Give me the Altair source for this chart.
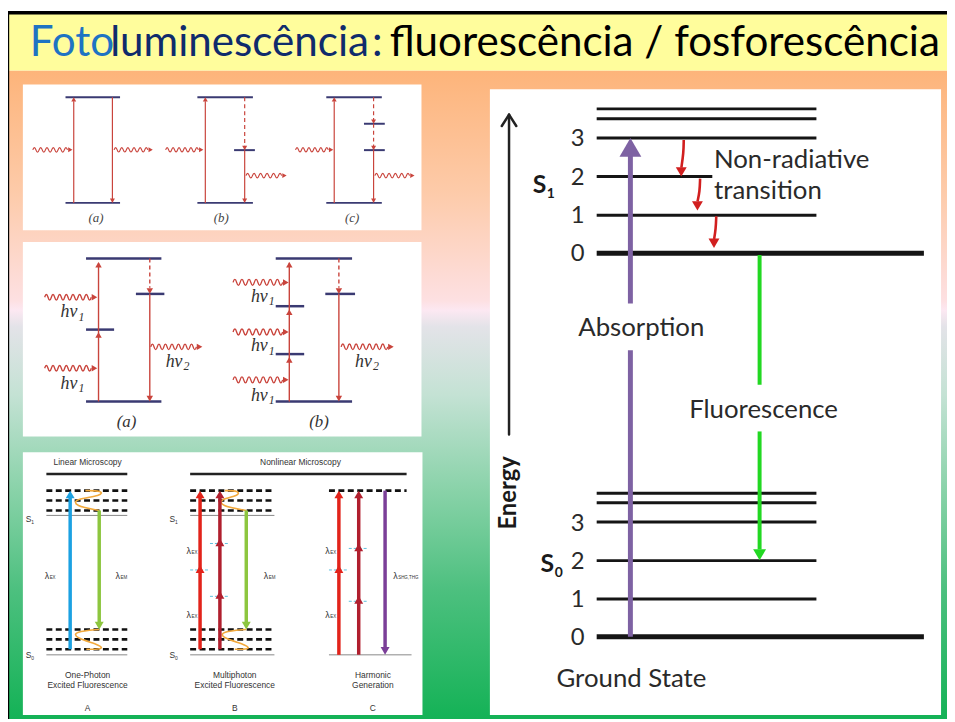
import altair as alt
import pandas as pd

# ===================== DATA (positions) =====================
# ---- title
TITLE_TEXT = ["Foto", "luminescência", ":", "fluorescência / fosforescência"]
TITLE_X = [30, 111, 375, 393]
TITLE_COL = ["#1E73C3", "#0F2B6C", "#0F2B6C", "#000000"]
TITLE_BASE = 53

# ---- background gradient (offset, colour)
BG_OFFSETS = [0.0, 0.19, 0.355, 0.37, 0.395, 0.5, 0.65, 0.8, 1.0]
BG_COLORS = ["#FDB47A", "#FDCBAA", "#FDE0E2", "#FCE8F2", "#E3E3E8",
             "#C4E2D4", "#88D2A8", "#4DC07F", "#14B256"]

# ---- white picture frames (left, top, right, bottom)
FRAMES = [(23, 82, 425, 229), (23, 241, 425, 437), (23, 453, 426, 718), (494, 87, 949, 718)]

NAVY = "#3A3A72"
RED = "#C9443C"

# ---- picture 1: (a) (b) (c)   levels (x1, x2, y)
B1_LEVELS = [(66, 121, 95), (66, 121, 201.5), (199, 255, 95), (199, 255, 201.5), (236, 257, 148.3),
             (329, 385, 95), (329, 385, 201.5), (367, 388, 121.7), (367, 388, 148.3)]
B1_SOLID = [(74.3, 201.5, 99), (113.3, 95, 198), (207, 201.5, 99), (246.7, 148.3, 198),
            (337, 201.5, 99), (376.7, 148.3, 198)]
B1_DASHED = [(246.7, 95, 145), (376.7, 95, 118), (376.7, 121.7, 145)]
B1_HEADS = [(74.3, 95, "u"), (113.3, 201.5, "d"), (207, 95, "u"), (246.7, 148.3, "d"),
            (246.7, 201.5, "d"), (337, 95, "u"), (376.7, 121.7, "d"), (376.7, 148.3, "d"),
            (376.7, 201.5, "d")]
B1_WAVES = [(33, 68, 148), (115, 149, 148), (167, 200, 148), (248, 284, 174),
            (298, 331, 148), (378, 413, 174)]
B1_LABELS = [("(a)", 96.7, 217), ("(b)", 223, 217), ("(c)", 355, 217)]

# ---- picture 2: two-photon / three-photon
B2_LEVELS = [(86.7, 162.7, 257.7), (86.7, 162.7, 401.7), (86.7, 115, 329.3), (137, 165.7, 293.3),
             (278, 355, 257.7), (278, 355, 401.7), (278, 306.7, 305.7), (278, 306.7, 354),
             (328, 358, 293.3)]
B2_SOLID = [(99.3, 401.7, 262), (151, 293.3, 397), (291.7, 401.7, 262), (341.7, 293.3, 397)]
B2_DASHED = [(151, 257.7, 287), (341.7, 257.7, 287)]
B2_HEADS = [(99.3, 332, "u"), (99.3, 261, "u"), (151, 293.3, "d"), (151, 401.7, "d"),
            (291.7, 261, "u"), (291.7, 309, "u"), (291.7, 357, "u"),
            (341.7, 293.3, "d"), (341.7, 401.7, "d")]
B2_WAVES = [(45, 92, 296.7), (45, 92, 368.3), (235, 285, 281.7), (235, 285, 331.7),
            (235, 285, 380), (152, 198, 346.7), (344, 391, 346.7)]
B2_HNU = [(61, 317, "1"), (61, 389, "1"), (253, 301, "1"), (253, 351, "1"), (253, 401, "1"),
          (167, 367, "2"), (358, 367, "2")]
B2_LABELS = [("(a)", 127.5, 423), ("(b)", 321.7, 423)]

# ---- picture 3: linear / nonlinear microscopy
BLUE3, GREEN3, RED3, DRED3, PURP3, ORANGE3, CYAN3 = (
    "#1BA1E2", "#8DC63F", "#E2231A", "#B01F2E", "#7B3F98", "#F2A93B", "#5BC0DE")
B3_HEADER = [(46.7, 128.3, 475), (191.7, 410, 475)]
B3_THIN = [(46.7, 128.3, 516.7), (46.7, 128.3, 657.3), (191.7, 276.7, 516.7),
           (191.7, 276.7, 657.3), (331.7, 415, 657.3)]
B3_DASHED = [(46.7, 128.3, 491.7), (46.7, 128.3, 501.7), (46.7, 128.3, 511.7),
             (46.7, 128.3, 631.7), (46.7, 128.3, 641.7), (46.7, 128.3, 651.7),
             (191.7, 276.7, 491.7), (191.7, 276.7, 501.7), (191.7, 276.7, 511.7),
             (191.7, 276.7, 631.7), (191.7, 276.7, 641.7), (191.7, 276.7, 651.7),
             (331.7, 410, 491.7)]
B3_CYAN = [(191.7, 211.7, 571.7), (211.7, 231.7, 545), (211.7, 231.7, 598.3),
           (331.7, 351.7, 571.7), (351.7, 371.7, 550), (351.7, 371.7, 603.3)]
B3_SHAFTS = [(70.7, 651.7, 497, BLUE3), (100, 511.7, 626, GREEN3),
             (201.7, 651.7, 497, RED3), (221.7, 651.7, 497, DRED3), (248.3, 511.7, 626, GREEN3),
             (341.7, 657.3, 497, RED3), (361.7, 657.3, 497, DRED3), (388.3, 491.7, 650, PURP3)]
B3_HEADS = [(70.7, 491.7, "u", BLUE3), (100, 631.7, "d", GREEN3),
            (201.7, 567, "u", RED3), (201.7, 491.7, "u", RED3),
            (221.7, 593, "u", DRED3), (221.7, 540, "u", DRED3), (221.7, 491.7, "u", DRED3),
            (248.3, 631.7, "d", GREEN3),
            (341.7, 567, "u", RED3), (341.7, 491.7, "u", RED3),
            (361.7, 598, "u", DRED3), (361.7, 545, "u", DRED3), (361.7, 491.7, "u", DRED3),
            (388.3, 657.3, "d", PURP3)]
B3_ORANGE = {
    "a_top": [(86, 491.7), (103, 491.7), (103, 497), (75, 500), (75, 507), (100, 511.7)],
    "a_bot": [(100, 631.7), (75, 634), (75, 640), (103, 648), (103, 651.7), (87, 651.7)],
    "b_top": [(226.7, 491.7), (241, 491.7), (241, 497), (222, 500), (222, 507), (248.3, 511.7)],
    "b_bot": [(248.3, 631.7), (223, 634), (223, 640), (251, 648), (251, 651.7), (236.7, 651.7)],
}
B3_CENTER_TEXT = [("Linear Microscopy", 88.3, 463), ("Nonlinear Microscopy", 303, 463),
                  ("One-Photon", 88.3, 678), ("Excited Fluorescence", 88.3, 688), ("A", 88.3, 711),
                  ("Multiphoton", 236.7, 678), ("Excited Fluorescence", 236.7, 688), ("B", 236.7, 711),
                  ("Harmonic", 376, 678), ("Generation", 376, 688), ("C", 376, 711)]
B3_SYMBOLS = [("S", 26, 520, 8.5), ("1", 31.5, 523, 5), ("S", 26, 658, 8.5), ("0", 31.5, 661, 5),
              ("S", 171, 520, 8.5), ("1", 176.5, 523, 5), ("S", 171, 658, 8.5), ("0", 176.5, 661, 5),
              ("λ", 45, 578, 9), ("EX", 50, 580, 4.5), ("λ", 116.5, 578, 9), ("EM", 121.5, 580, 4.5),
              ("λ", 188, 553, 9), ("EX", 193, 555, 4.5), ("λ", 188, 617, 9), ("EX", 193, 619, 4.5),
              ("λ", 266, 578, 9), ("EM", 271, 580, 4.5),
              ("λ", 328, 553, 9), ("EX", 333, 555, 4.5), ("λ", 328, 617, 9), ("EX", 333, 619, 4.5),
              ("λ", 396.5, 578, 9), ("SHG,THG", 401.5, 580, 4.5)]

# ---- Jablonski diagram (right)
S1_LEVELS = [(601.7, 823.3, 106.7, 3), (601.7, 823.3, 116.7, 3), (601.7, 823.3, 136, 3),
             (601.7, 718.3, 175, 3), (601.7, 823.3, 214, 3), (601.7, 931.7, 252.3, 5)]
S0_LEVELS = [(601.7, 823.3, 494.3, 3), (601.7, 823.3, 504, 3), (601.7, 823.3, 523.3, 3),
             (601.7, 823.3, 562.3, 3), (601.7, 823.3, 601, 3), (601.7, 931.7, 639, 5)]
LEVEL_NUMS = [("3", 136.7), ("2", 176.7), ("1", 215), ("0", 253.3),
              ("3", 525), ("2", 563.3), ("1", 601.7), ("0", 640)]
LEVEL_NUM_X = 582.5
ENERGY_AXIS = [(513.3, 113, 513.3, 435), (506, 124, 513.3, 112.5), (520.6, 124, 513.3, 112.5)]
PURPLE, GREEN, NR_RED = "#7E62A3", "#22D822", "#D11F1F"
ABS_SHAFT = [(635.7, 639, 635.7, 350), (635.7, 303, 635.7, 150)]
FLU_SHAFT = [(766, 254, 766, 385), (766, 432, 766, 551)]
NR_CURVES = {
    "r1": [(689.5, 138), (689.3, 151), (687.1, 166)],
    "r2": [(706, 177), (705.6, 190), (703.4, 200)],
    "r3": [(722.3, 215), (721.8, 228), (720.1, 238)],
}
JAB_HEADS = [(635.7, 136, "u", 22, PURPLE), (766, 562, "d", 13, GREEN),
             (687, 175, "d", 11, NR_RED), (703.3, 209.3, "d", 11, NR_RED), (720, 247, "d", 11, NR_RED)]
JAB_TEXT_C = [("Absorption", 646.7, 328), ("Fluorescence", 770, 410), ("Ground State", 636.7, 682)]
JAB_TEXT_L = [("Non-radiative", 720, 158), ("transition", 720, 190)]
JAB_BOLD = [("S", 544, 184, 25), ("1", 555.5, 193, 14), ("S", 552, 566, 25), ("0", 563.5, 575, 14)]

# ===================== HELPERS =====================
XS = alt.Scale(domain=[8, 955], nice=False, zero=False)
YS = alt.Scale(domain=[8, 722], nice=False, zero=False, reverse=True)


def xe(f="x"):
    return alt.X(f, type="quantitative", scale=XS, axis=None)


def ye(f="y"):
    return alt.Y(f, type="quantitative", scale=YS, axis=None)


def segs(rows, dash=None, cap="butt"):
    """rows: (x1, y1, x2, y2, colour, width)"""
    df = pd.DataFrame(rows, columns=["x", "y", "x2", "y2", "c", "w"])
    kw = dict(strokeCap=cap)
    if dash:
        kw["strokeDash"] = dash
    return alt.Chart(df).mark_rule(**kw).encode(
        x=xe("x"), y=ye("y"), x2=alt.X2("x2"), y2=alt.Y2("y2"),
        color=alt.Color("c:N", scale=None), strokeWidth=alt.StrokeWidth("w:Q", scale=None))


ANG = {"u": 0, "r": 90, "d": 180, "l": 270}


def heads(rows):
    """rows: (tip_x, tip_y, direction, width, colour)"""
    out = []
    for x, y, d, w, c in rows:
        h = 0.433 * w
        cx, cy = x, y
        if d == "u":
            cy = y + h
        elif d == "d":
            cy = y - h
        elif d == "r":
            cx = x - h
        out.append(dict(x=cx, y=cy, a=ANG[d], s=w * w, c=c))
    df = pd.DataFrame(out)
    return alt.Chart(df).mark_point(shape="triangle-up", filled=True, opacity=1, strokeWidth=0).encode(
        x=xe("x"), y=ye("y"), angle=alt.Angle("a:Q", scale=None),
        size=alt.Size("s:Q", scale=None), color=alt.Color("c:N", scale=None))


def wave_shape(n_half, amp):
    """photon squiggle drawn as a symbol path in the unit box [-1, 1]"""
    h = 2.0 / n_half
    parts = ["M-1,0"]
    for i in range(n_half):
        sgn = -1 if i % 2 == 0 else 1
        parts.append(f"q{h / 2:.4f},{sgn * 2 * amp:.4f},{h:.4f},0")
    return " ".join(parts)


def waves(rows, shape, color, sw):
    df = pd.DataFrame([dict(x=(a + b) / 2, y=y, s=(b - a) ** 2) for a, b, y in rows])
    return alt.Chart(df).mark_point(shape=shape, filled=False, opacity=1, strokeWidth=sw,
                                    color=color).encode(
        x=xe("x"), y=ye("y"), size=alt.Size("s:Q", scale=None))


def curves(groups, color, width):
    rows = []
    for gid, pts in groups.items():
        for i, (x, y) in enumerate(pts):
            rows.append(dict(g=gid, o=i, x=x, y=y))
    df = pd.DataFrame(rows)
    return alt.Chart(df).mark_line(interpolate="basis", color=color, strokeWidth=width).encode(
        x=xe("x"), y=ye("y"), detail="g:N", order=alt.Order("o:Q"))


def texts(rows, font, align="center", baseline="middle", weight="normal", style="normal", angle=None):
    """rows: (text, x, y, size, colour)"""
    df = pd.DataFrame(rows, columns=["t", "x", "y", "s", "c"])
    mk = dict(font=font, align=align, baseline=baseline, fontWeight=weight, fontStyle=style)
    if angle is not None:
        mk["angle"] = angle
    return alt.Chart(df).mark_text(**mk).encode(
        x=xe("x"), y=ye("y"), text="t:N", size=alt.Size("s:Q", scale=None),
        color=alt.Color("c:N", scale=None))


def rects(rows, color):
    df = pd.DataFrame(rows, columns=["x", "y", "x2", "y2"])
    return alt.Chart(df).mark_rect(color=color).encode(
        x=xe("x"), y=ye("y"), x2=alt.X2("x2"), y2=alt.Y2("y2"))


# ===================== LAYERS =====================
layers = []

# background gradient + title bar + border
grad = alt.LinearGradient(gradient="linear", x1=0, y1=0, x2=0, y2=1,
                          stops=[alt.GradientStop(offset=o, color=c) for o, c in zip(BG_OFFSETS, BG_COLORS)])
layers.append(rects([(9, 68, 955, 722)], grad))
layers.append(rects([(9, 11, 955, 68)], "#FFFD9C"))
layers.append(segs([(8.4, 8, 8.4, 722, "#000000", 1.6), (8, 9.8, 955, 9.8, "#000000", 3.6)]))
layers.append(texts([(t, x, TITLE_BASE, 42.5, c) for t, x, c in zip(TITLE_TEXT, TITLE_X, TITLE_COL)],
                    font="Lato", align="left", baseline="alphabetic"))

# white frames
layers.append(rects(FRAMES, "#FFFFFF"))

# ---- picture 1
layers.append(segs([(a, y, b, y, NAVY, 2) for a, b, y in B1_LEVELS]))
layers.append(segs([(x, a, x, b, RED, 1.2) for x, a, b in B1_SOLID]))
layers.append(segs([(x, a, x, b, RED, 1.2) for x, a, b in B1_DASHED], dash=[4, 3]))
layers.append(waves(B1_WAVES, wave_shape(11, 0.13), RED, 1.2))
layers.append(heads([(x, y, d, 5, RED) for x, y, d in B1_HEADS] +
                    [(b + 5, y, "r", 5, RED) for a, b, y in B1_WAVES]))
layers.append(texts([(t, x, y, 13, "#444444") for t, x, y in B1_LABELS],
                    font="Liberation Serif", style="italic"))

# ---- picture 2
layers.append(segs([(a, y, b, y, NAVY, 2.5) for a, b, y in B2_LEVELS]))
layers.append(segs([(x, a, x, b, RED, 1.4) for x, a, b in B2_SOLID]))
layers.append(segs([(x, a, x, b, RED, 1.4) for x, a, b in B2_DASHED], dash=[4, 3]))
layers.append(waves(B2_WAVES, wave_shape(14, 0.12), RED, 1.4))
layers.append(heads([(x, y, d, 6.5, RED) for x, y, d in B2_HEADS] +
                    [(b + 6, y, "r", 6.5, RED) for a, b, y in B2_WAVES]))
layers.append(texts([("hν", x, y, 18, "#333333") for x, y, s in B2_HNU] +
                    [(s, x + 18, y + 3.5, 12, "#333333") for x, y, s in B2_HNU],
                    font="Liberation Serif", style="italic", align="left", baseline="alphabetic"))
layers.append(texts([(t, x, y, 17, "#333333") for t, x, y in B2_LABELS],
                    font="Liberation Serif", style="italic"))

# ---- picture 3
layers.append(segs([(a, y, b, y, "#222222", 2.5) for a, b, y in B3_HEADER]))
layers.append(segs([(a, y, b, y, "#888888", 1) for a, b, y in B3_THIN]))
layers.append(segs([(a, y, b, y, "#111111", 2.6) for a, b, y in B3_DASHED], dash=[6, 3.5]))
layers.append(segs([(a, y, b, y, CYAN3, 1) for a, b, y in B3_CYAN], dash=[3, 2]))
layers.append(curves(B3_ORANGE, ORANGE3, 1.6))
layers.append(segs([(x, a, x, b, c, 3.5) for x, a, b, c in B3_SHAFTS]))
layers.append(heads([(x, y, d, 9, c) for x, y, d, c in B3_HEADS]))
layers.append(texts([(t, x, y, 8.5, "#333333") for t, x, y in B3_CENTER_TEXT],
                    font="Liberation Sans"))
layers.append(texts([(t, x, y, s, "#333333") for t, x, y, s in B3_SYMBOLS],
                    font="Liberation Sans", align="left"))

# ---- Jablonski diagram
layers.append(segs([(a, y, b, y, "#151515", w) for a, b, y, w in S1_LEVELS + S0_LEVELS]))
layers.append(segs([(a, b, c, d, "#222222", 2.5) for a, b, c, d in ENERGY_AXIS], cap="round"))
layers.append(segs([(a, b, c, d, PURPLE, 5) for a, b, c, d in ABS_SHAFT]))
layers.append(segs([(a, b, c, d, GREEN, 4) for a, b, c, d in FLU_SHAFT]))
layers.append(curves(NR_CURVES, NR_RED, 2.6))
layers.append(heads(JAB_HEADS))
layers.append(texts([(t, LEVEL_NUM_X, y, 24, "#2A2A2A") for t, y in LEVEL_NUMS], font="Lato"))
layers.append(texts([(t, x, y, 26, "#2A2A2A") for t, x, y in JAB_TEXT_C], font="Lato"))
layers.append(texts([(t, x, y, 26, "#2A2A2A") for t, x, y in JAB_TEXT_L], font="Lato", align="left"))
layers.append(texts([(t, x, y, s, "#1A1A1A") for t, x, y, s in JAB_BOLD], font="Lato", weight="bold"))
layers.append(texts([("Energy", 513.3, 494, 24, "#1A1A1A")], font="Lato", weight="bold", angle=270))

chart = alt.layer(*layers).properties(
    width=947, height=714, padding=0,
    autosize=alt.AutoSizeParams(type="none"), background="white"
).configure_view(stroke=None)

chart.save("out.html", embed_options={"renderer": "svg", "actions": False})
